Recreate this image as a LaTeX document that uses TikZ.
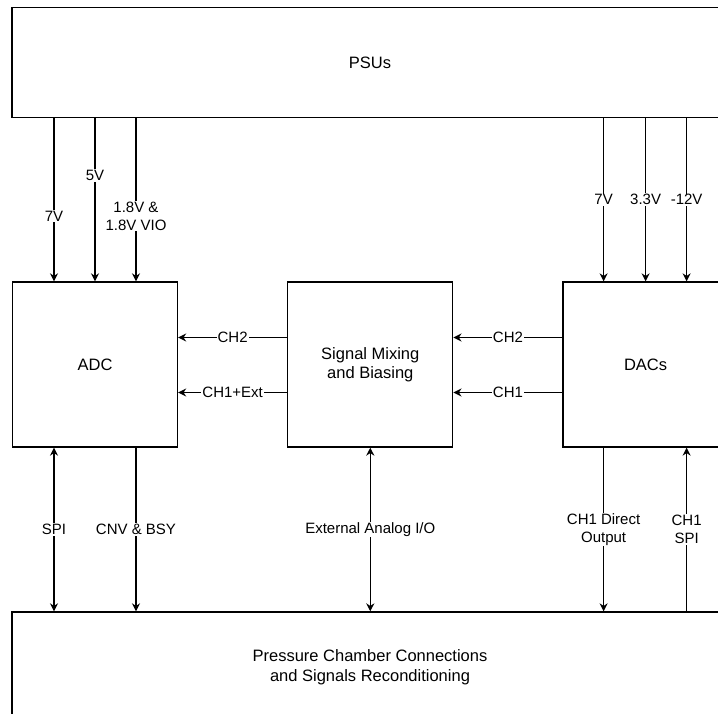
\documentclass[tikz,border=0pt]{standalone}
\usepackage{fontspec}
\setmainfont{Liberation Sans}
\usetikzlibrary{positioning,arrows.meta}

\begin{document}
\begin{tikzpicture}[
  x=1pt, y=-1pt,
  font=\fontsize{16.5}{19.5}\selectfont,
  node distance=109pt,
  block/.style={draw, fill=white, line width=1.3pt, align=center, minimum width=165pt, minimum height=165pt, inner sep=0pt},
  wide/.style={draw, fill=white, line width=1.3pt, align=center, minimum width=716pt, minimum height=110pt, inner sep=0pt},
  arrow/.style={-{Stealth[length=8pt,width=8pt]}, line width=1.3pt},
  twoway/.style={{Stealth[length=8pt,width=8pt]}-{Stealth[length=8pt,width=8pt]}, line width=1.3pt},
  lbl/.style={fill=white, inner sep=1pt, align=center, font=\fontsize{15}{18}\selectfont}
]
\useasboundingbox (0,0) rectangle (718,714);
\clip (0,0) rectangle (718,714);
\node[wide] (psus) at (370,62.5) {PSUs};
\node[block] (adc) at (95,364.5) {ADC};
\node[block, right=of adc] (mix) {Signal Mixing\\and Biasing};
\node[block, right=of mix] (dacs) {DACs};
\node[wide] (chamber) at (370,667) {Pressure Chamber Connections\\and Signals Reconditioning};
% supplies
\draw[arrow] ([xshift=-41pt]adc.north |- psus.south) -- ([xshift=-41pt]adc.north) node[lbl, pos=0.6] {7V};
\draw[arrow] (adc.north |- psus.south) -- (adc.north) node[lbl, pos=0.35] {5V};
\draw[arrow] ([xshift=41pt]adc.north |- psus.south) -- ([xshift=41pt]adc.north) node[lbl, pos=0.6] {1.8V \&\\1.8V VIO};
\draw[arrow] ([xshift=-42pt]dacs.north |- psus.south) -- ([xshift=-42pt]dacs.north) node[lbl, midway] {7V};
\draw[arrow] (dacs.north |- psus.south) -- (dacs.north) node[lbl, midway] {3.3V};
\draw[arrow] ([xshift=41pt]dacs.north |- psus.south) -- ([xshift=41pt]dacs.north) node[lbl, midway] {-12V};
% channels
\draw[arrow] ([yshift=27pt]mix.west) -- ([yshift=27pt]adc.east) node[lbl, midway] {CH2};
\draw[arrow] ([yshift=-28pt]mix.west) -- ([yshift=-28pt]adc.east) node[lbl, midway] {CH1+Ext};
\draw[arrow] ([yshift=27pt]dacs.west) -- ([yshift=27pt]mix.east) node[lbl, midway] {CH2};
\draw[arrow] ([yshift=-28pt]dacs.west) -- ([yshift=-28pt]mix.east) node[lbl, midway] {CH1};
% chamber side
\draw[twoway] ([xshift=-41pt]adc.south) -- ([xshift=-41pt]adc.south |- chamber.north) node[lbl, midway] {SPI};
\draw[arrow] ([xshift=41pt]adc.south) -- ([xshift=41pt]adc.south |- chamber.north) node[lbl, midway] {CNV \& BSY};
\draw[twoway] (mix.south) -- (mix.south |- chamber.north) node[lbl, midway] {External Analog I/O};
\draw[arrow] ([xshift=-42pt]dacs.south) -- ([xshift=-42pt]dacs.south |- chamber.north) node[lbl, midway] {CH1 Direct\\Output};
\draw[arrow] ([xshift=41pt]dacs.south |- chamber.north) -- ([xshift=41pt]dacs.south) node[lbl, midway] {CH1\\SPI};
\end{tikzpicture}
\end{document}
